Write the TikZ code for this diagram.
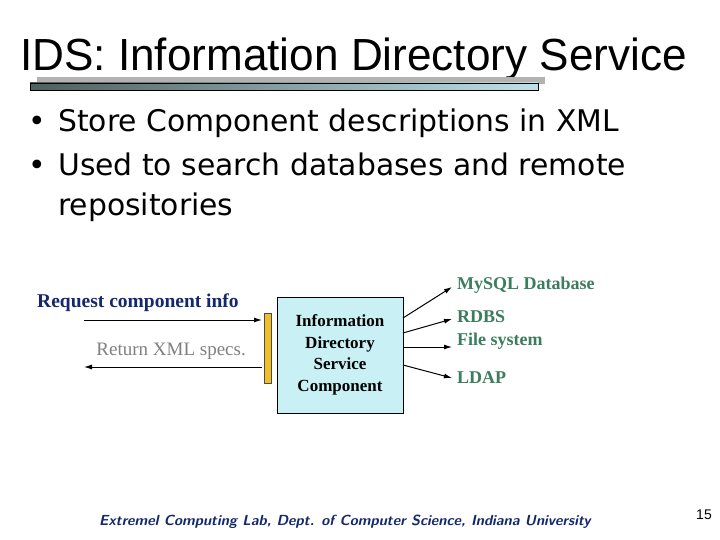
\documentclass[tikz,border=0pt]{standalone}
\usepackage{fontspec}
\setmainfont{Liberation Serif}
\newfontfamily\titlefont{Liberation Sans}
\newfontfamily\bulletfont{DejaVu Sans}
\usetikzlibrary{arrows.meta}
\definecolor{navy}{RGB}{20,40,110}
\definecolor{grn}{RGB}{60,125,95}
\definecolor{boxfill}{RGB}{200,240,245}
\definecolor{gold}{RGB}{240,190,40}
\definecolor{bardark}{RGB}{80,95,95}
\definecolor{barlight}{RGB}{190,225,230}
\tikzset{
  arr/.style={-{Latex[length=8pt,width=5pt]}, line width=1pt},
  lbl/.style={inner sep=0pt, font=\bfseries\fontsize{18}{20}\selectfont},
  bul/.style={inner sep=0pt, anchor=base west, font=\bulletfont\fontsize{29.8}{32}\selectfont}
}
\begin{document}
\begin{tikzpicture}[x=1pt,y=-1pt]
\useasboundingbox (0,0) rectangle (720,540);
\fill[white] (0,0) rectangle (720,540);
% title
\node[inner sep=0pt, anchor=base west, font=\titlefont\fontsize{45}{48}\selectfont, xscale=0.98] (title) at (20,71) {IDS: Information Directory Service};
\fill[gray!60] (37,77) rectangle (545,84);
\shade[left color=bardark, right color=barlight, draw=black, line width=0.4pt] (30,83) rectangle (538,90);
% bullets
\node[bul] (b1) at (28,132) {•};
\node[bul] (t1) at (58,132) {Store Component descriptions in XML};
\node[bul] (b2) at (28,176) {•};
\node[bul] (t2) at (58,176) {Used to search databases and remote};
\node[bul] (t3) at (58,215) {repositories};
% diagram
\node[draw, fill=boxfill, minimum width=126pt, minimum height=116pt, align=center, font=\bfseries\fontsize{17}{21.5}\selectfont, inner sep=0pt] (ids) at (340,355) {Information\\Directory\\Service\\Component};
\fill[gold, draw=black!70, line width=0.4pt] (264,313) rectangle (271,383);
\coordinate (bar1) at (262,320);
\coordinate (bar2) at (262,367);
\coordinate (l1) at (84,320);
\coordinate (l2) at (84,367);
\draw[arr] (l1) -- (bar1);
\draw[arr] (bar2) -- (l2);
\node[lbl, text=navy, font=\bfseries\fontsize{19.5}{21}\selectfont] (req) at (138,303) {Request component info};
\node[lbl, text=gray, font=\fontsize{19}{21}\selectfont, anchor=east] (ret) at (246,351) {Return XML specs.};
\node[lbl, text=grn, anchor=west] (mysql) at (457,285) {MySQL Database};
\node[lbl, text=grn, anchor=west, align=left, font=\bfseries\fontsize{18}{23}\selectfont] (rdbs) at (457,330) {RDBS\\File system};
\node[lbl, text=grn, anchor=west] (ldap) at (457,378) {LDAP};
\draw[arr] (403,318) -- (452,287);
\draw[arr] (403,333) -- (452,319);
\draw[arr] (403,347) -- (452,347);
\draw[arr] (403,365) -- (452,378);
% footer
\node[inner sep=0pt, text=navy, font=\sffamily\bfseries\itshape\fontsize{14.6}{16}\selectfont] (foot) at (345,522) {Extremel Computing Lab, Dept. of Computer Science, Indiana University};
\node[inner sep=0pt, font=\titlefont\fontsize{14}{16}\selectfont] (pg) at (704,515) {15};
\end{tikzpicture}
\end{document}
